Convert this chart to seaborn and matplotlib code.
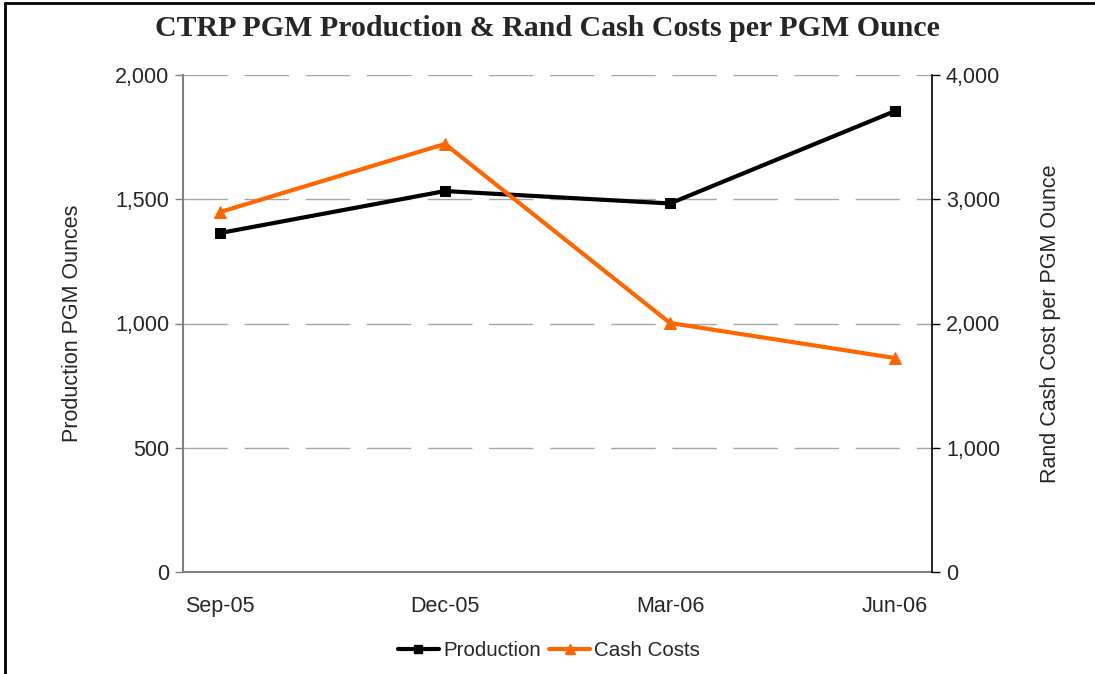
import matplotlib
matplotlib.use("Agg")
import matplotlib.pyplot as plt
from matplotlib.lines import Line2D
from matplotlib.ticker import FuncFormatter
import seaborn as sns
import pandas as pd

quarters = ["Sep-05", "Dec-05", "Mar-06", "Jun-06"]
production = [1364, 1533, 1483, 1855]
cash_costs = [2897, 3445, 2004, 1722]

sns.set_style("white")
plt.rcParams["font.family"] = ["Liberation Sans", "DejaVu Sans"]

FS = 15.5
fig = plt.figure(figsize=(10.95, 6.74), dpi=100)
ax = fig.add_axes([183 / 1095, 1 - 572 / 674, (932 - 183) / 1095, (572 - 75) / 674])
ax2 = ax.twinx()

df = pd.DataFrame({"q": range(len(quarters)), "prod": production, "cash": cash_costs})

sns.lineplot(data=df, x="q", y="prod", ax=ax, color="black", lw=3, marker="s",
             markersize=7, markeredgecolor="black", legend=False, zorder=3)
sns.lineplot(data=df, x="q", y="cash", ax=ax2, color="#FF6600", lw=3, marker="^",
             markersize=8, markeredgecolor="#FF6600", legend=False, zorder=3)

ax.set_xlim(-37 / 225, 3 + 37 / 225)
ax.set_ylim(0, 2000)
ax2.set_ylim(0, 4000)
ax.set_yticks([0, 500, 1000, 1500, 2000])
ax2.set_yticks([0, 1000, 2000, 3000, 4000])
fmt = FuncFormatter(lambda v, p: f"{int(v):,}")
ax.yaxis.set_major_formatter(fmt)
ax2.yaxis.set_major_formatter(fmt)
ax.set_xticks(range(len(quarters)))
ax.set_xticklabels(quarters)

for y in [500, 1000, 1500, 2000]:
    ax.axhline(y, color="#a6a6a6", lw=1, dashes=(32, 12), zorder=1)

for a in (ax, ax2):
    a.spines["top"].set_visible(False)
ax.spines["right"].set_visible(False)
ax.spines["left"].set_color("#808080")
ax.spines["bottom"].set_color("#808080")
ax.spines["left"].set_linewidth(1.5)
ax.spines["bottom"].set_linewidth(1.5)
ax2.spines["left"].set_visible(False)
ax2.spines["bottom"].set_visible(False)
ax2.spines["right"].set_color("black")
ax2.spines["right"].set_linewidth(1.2)

ax.tick_params(axis="y", direction="out", length=6, width=1, color="#808080",
               labelsize=FS, pad=4, left=True)
ax.tick_params(axis="x", length=0, labelsize=FS, pad=17)
ax2.tick_params(axis="y", direction="out", length=6, width=1, color="black",
                labelsize=FS, pad=4, right=True)

ax.set_xlabel("")
ax.set_ylabel("Production PGM Ounces", fontsize=FS, labelpad=23)
ax2.set_ylabel("Rand Cash Cost per PGM Ounce", fontsize=FS, labelpad=29)

fig.suptitle("CTRP PGM Production & Rand Cash Costs per PGM Ounce",
             family=["Liberation Serif", "DejaVu Serif"], fontweight="bold",
             fontsize=21.5, y=1 - 29 / 674, va="center")

handles = [
    Line2D([], [], color="black", lw=3, marker="s", markersize=6),
    Line2D([], [], color="#FF6600", lw=3, marker="^", markersize=7),
]
fig.legend(handles, ["Production", "Cash Costs"], loc="center",
           bbox_to_anchor=(549 / 1095, 1 - 651 / 674), ncol=2, frameon=False,
           fontsize=14.8, handlelength=2.0, handletextpad=0.2, columnspacing=0.4)

fig.add_artist(Line2D([5 / 1095, 5 / 1095], [0, 1 - 3 / 674], color="black", lw=2,
                      transform=fig.transFigure))
fig.add_artist(Line2D([5 / 1095, 1], [1 - 3 / 674, 1 - 3 / 674], color="black", lw=2,
                      transform=fig.transFigure))

fig.savefig("out.png", dpi=100)
